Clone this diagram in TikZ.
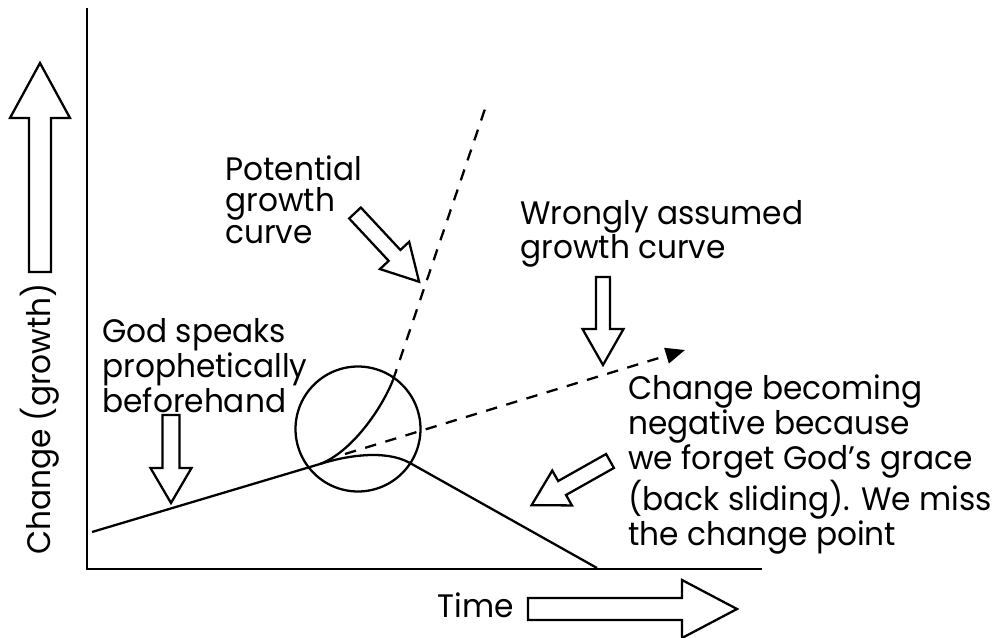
\documentclass[tikz,border=0pt]{standalone}
\usepackage{fontspec}
\setmainfont{Poppins}[FakeStretch=0.96]
\usetikzlibrary{arrows.meta,positioning}

\begin{document}
\begin{tikzpicture}[x=0.02cm, y=-0.02cm,
    axis/.style={line width=1.7pt},
    curve/.style={line width=1.3pt},
    guess/.style={line width=1.3pt, dash pattern=on 6.5pt off 5.5pt},
    blockline/.style={line width=1.3pt, fill=white},
    txt/.style={inner sep=0pt, align=left, font=\fontsize{18.5}{18.1}\selectfont},
    pics/fatarrow/.style n args={4}{code={
        \draw[blockline] (0,-#2) -- (#1-#4,-#2) -- (#1-#4,-#3) -- (#1,0)
            -- (#1-#4,#3) -- (#1-#4,#2) -- (0,#2) -- cycle;
    }}
]
    \useasboundingbox (0,0) rectangle (997,638);

    % axes
    \coordinate (origin) at (87,569);
    \coordinate (ytop) at (87,8);
    \coordinate (xend) at (762,569);
    \draw[axis] (ytop) -- (origin) -- (xend);

    % axis arrows and labels
    \pic[rotate=90] at (40,272) {fatarrow={209}{11}{30}{55}};
    \pic at (528,609) {fatarrow={209}{11}{29}{55}};
    \node[txt, rotate=90] (ylabel) at (40,419) {Change (growth)};
    \node[txt] (xlabel) at (476,605) {Time};

    % actual growth path
    \coordinate (start) at (92,532);
    \coordinate (bendL) at (320,464);
    \coordinate (bendR) at (410,463);
    \coordinate (stop) at (597,568);
    \draw[curve] (start) -- (bendL) .. controls (345,456) and (385,449) .. (bendR) -- (stop);

    % change point
    \node[draw, circle, line width=1.3pt, minimum size=2.5cm, inner sep=0pt] (turn) at (358,429) {};
    \coordinate (rim) at (393,380);
    \draw[curve] (bendL) .. controls (352,452) and (382,408) .. (rim);
    \draw[guess] (rim) -- (487,103);
    \coordinate (wrongtip) at (685,350);
    \draw[guess, -{Triangle[length=11pt, width=9pt]}] (345,454) -- (wrongtip);

    % pointers
    \pic[rotate=-47] at (355,213) {fatarrow={94}{8}{20}{36}};
    \pic[rotate=-90] at (171,415) {fatarrow={88}{8.5}{20.5}{35}};
    \pic[rotate=-90] at (603,277) {fatarrow={88}{7}{20.5}{36}};
    \pic[rotate=209.4] at (610,461) {fatarrow={90}{8}{20}{35}};

    % notes
    \node[txt, anchor=north west] (potential) at (225,155) {Potential\\growth\\curve};
    \node[txt, anchor=north west] (wrongly) at (520,200) {Wrongly assumed\\growth curve};
    \node[txt, anchor=north west] (prophecy) at (102,318) {God speaks\\prophetically\\beforehand};
    \node[txt, anchor=north west] (negative) at (628,374) {Change becoming\\negative because\\we forget God’s grace\\(back sliding). We miss\\the change point};
\end{tikzpicture}
\end{document}
